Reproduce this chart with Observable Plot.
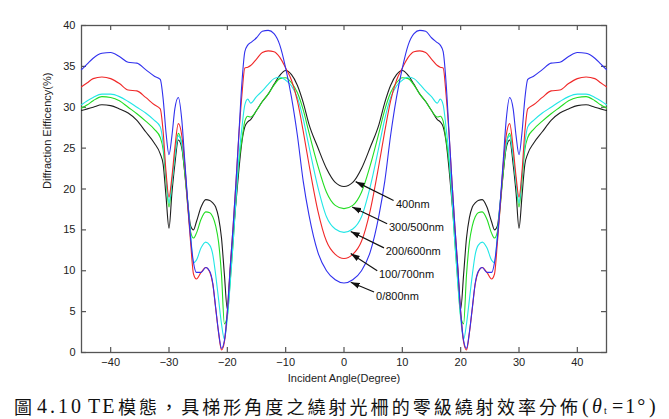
<!DOCTYPE html>
<html>
<head>
<meta charset="utf-8">
<script src="https://cdn.jsdelivr.net/npm/d3@7"></script>
<script src="https://cdn.jsdelivr.net/npm/@observablehq/plot@0.6"></script>
<style>
  html, body { margin: 0; padding: 0; background: #fff; }
  #chart { width: 669px; height: 395px; }
  #caption { position: relative; width: 669px; height: 24px; color: #111; white-space: nowrap; }
  #caption span { position: absolute; top: 0; line-height: 22px; }
  #caption .cjk { font-family: "Noto Sans CJK TC", sans-serif; font-size: 18px; }
  #caption .lat { font-family: "Liberation Serif", serif; font-size: 20px; }
</style>
</head>
<body>
<div id="chart"></div>
<div id="caption"><span class="cjk" style="left:14px">圖</span><span class="lat" style="left:37px;letter-spacing:3px">4.10</span><span class="lat" style="left:88px;letter-spacing:2px">TE</span><span class="cjk" style="left:118px;letter-spacing:3.05px">模態，具梯形角度之繞射光柵的零級繞射效率分佈</span><span class="lat" style="left:582px">(</span><span class="lat" style="left:592px;font-style:italic">θ</span><span class="lat" style="left:604px;top:5px;font-size:10px">t</span><span class="lat" style="left:612px;letter-spacing:2px">=1°</span><span class="lat" style="left:649px">)</span></div>
<script>
// Incident angle (degree)
const angles = [-45,-44,-43,-41.5,-40,-38.5,-37,-35.5,-34,-32.5,-31.5,-31,-30.5,-30,-29.5,-29,-28.4,-27.8,-27.3,-26.8,-26.3,-25.8,-25.3,-24.5,-23.7,-23,-22.5,-22,-21.5,-21,-20.5,-20,-19.5,-19,-18.5,-18,-17.5,-17,-16.5,-16,-15,-14,-13,-12,-11,-10,-9,-8,-7,-6,-4.5,-3,-1.5,
  0,1.5,3,4.5,6,7,8,9,10,11,12,13,14,15,16,16.5,17,17.5,18,18.5,19,19.5,20,20.5,21,21.5,22,22.5,23,23.7,24.5,25.3,25.8,26.3,26.8,27.3,27.8,28.4,29,29.5,30,30.5,31,31.5,32.5,34,35.5,37,38.5,40,41.5,43,44,45];

// Diffraction efficiency (%) per depth series
const eff0_800 = [34.6,35.3,36.0,36.6,36.7,36.2,35.5,35.4,34.6,33.8,33.4,31.0,26.8,24.2,26.5,29.8,31.2,28.4,23.5,18.5,14.0,11.0,9.8,9.8,10.4,9.9,8.5,5.5,2.5,0.5,1.5,5.0,10.5,15.5,21.0,27.0,33.0,36.8,37.6,37.9,38.5,39.3,39.4,39.0,37.6,34.8,31.2,26.6,21.0,16.8,12.3,10.0,8.9,
  8.5,8.9,10.0,12.3,16.8,21.0,26.6,31.2,34.8,37.6,39.0,39.4,39.3,38.5,37.9,37.6,36.8,33.0,27.0,21.0,15.5,10.5,5.0,1.5,0.5,2.5,5.5,8.5,9.9,10.4,9.8,9.8,11.0,14.0,18.5,23.5,28.4,31.2,29.8,26.5,24.2,26.8,31.0,33.4,33.8,34.6,35.4,35.5,36.2,36.7,36.6,36.0,35.3,34.6];

const eff100_700 = [32.5,33.0,33.5,33.7,33.5,32.9,32.1,32.0,31.2,30.3,29.8,27.0,22.0,19.0,21.5,25.0,28.0,26.5,23.0,18.0,13.5,9.6,9.0,9.8,10.4,9.8,8.4,5.4,2.4,0.3,1.3,5.0,10.5,15.5,21.0,26.8,31.5,34.8,34.9,35.1,35.9,36.7,36.9,36.8,36.1,34.8,33.3,30.8,27.1,23.0,17.4,13.6,12.0,
  11.5,12.0,13.6,17.4,23.0,27.1,30.8,33.3,34.8,36.1,36.8,36.9,36.7,35.9,35.1,34.9,34.8,31.5,26.8,21.0,15.5,10.5,5.0,1.3,0.3,2.4,5.4,8.4,9.8,10.4,9.8,9.0,9.6,13.5,18.0,23.0,26.5,28.0,25.0,21.5,19.0,22.0,27.0,29.8,30.3,31.2,32.0,32.1,32.9,33.5,33.7,33.5,33.0,32.5];

const eff200_600 = [30.3,30.8,31.2,31.6,31.6,31.3,30.7,30.0,29.3,28.4,27.6,25.5,21.5,18.3,20.8,24.0,26.5,25.5,22.8,18.5,14.5,11.0,11.3,12.8,13.5,13.1,12.0,9.5,6.5,3.5,1.6,4.2,8.5,13.5,19.0,24.0,27.5,30.3,31.0,30.5,31.3,32.0,32.8,33.5,33.7,33.3,32.6,31.2,28.6,25.2,20.3,16.6,15.1,
  14.7,15.1,16.6,20.3,25.2,28.6,31.2,32.6,33.3,33.7,33.5,32.8,32.0,31.3,30.5,31.0,30.3,27.5,24.0,19.0,13.5,8.5,4.2,1.6,3.5,6.5,9.5,12.0,13.1,13.5,12.8,11.3,11.0,14.5,18.5,22.8,25.5,26.5,24.0,20.8,18.3,21.5,25.5,27.6,28.4,29.3,30.0,30.7,31.3,31.6,31.6,31.2,30.8,30.3];

const eff300_500 = [29.9,30.3,30.8,31.3,31.2,30.8,30.0,29.2,28.3,27.3,26.3,24.8,21.0,17.8,20.8,24.0,26.8,25.3,22.0,18.0,14.8,14.0,14.6,16.3,17.2,17.1,16.6,15.5,13.5,9.5,3.5,4.5,8.8,13.5,19.0,23.4,26.0,28.3,28.9,28.8,29.6,30.7,31.6,32.7,33.5,33.6,33.0,31.8,29.7,26.9,22.9,19.6,18.0,
  17.6,18.0,19.6,22.9,26.9,29.7,31.8,33.0,33.6,33.5,32.7,31.6,30.7,29.6,28.8,28.9,28.3,26.0,23.4,19.0,13.5,8.8,4.5,3.5,9.5,13.5,15.5,16.6,17.1,17.2,16.3,14.6,14.0,14.8,18.0,22.0,25.3,26.8,24.0,20.8,17.8,21.0,24.8,26.3,27.3,28.3,29.2,30.0,30.8,31.2,31.3,30.8,30.3,29.9];

const eff400 = [29.6,29.8,30.0,30.3,30.2,29.8,29.3,28.4,27.0,25.6,24.3,23.0,19.0,15.2,19.5,23.0,26.0,25.0,22.0,18.5,15.5,15.0,16.0,17.8,18.7,18.6,18.3,17.8,16.5,14.0,9.5,5.3,10.0,14.5,18.5,22.5,25.8,27.6,28.2,28.5,29.6,30.7,31.6,32.8,33.9,34.5,34.0,32.7,30.6,27.9,25.1,22.5,20.8,
  20.3,20.8,22.5,25.1,27.9,30.6,32.7,34.0,34.5,33.9,32.8,31.6,30.7,29.6,28.5,28.2,27.6,25.8,22.5,18.5,14.5,10.0,5.3,9.5,14.0,16.5,17.8,18.3,18.6,18.7,17.8,16.0,15.0,15.5,18.5,22.0,25.0,26.0,23.0,19.5,15.2,19.0,23.0,24.3,25.6,27.0,28.4,29.3,29.8,30.2,30.3,30.0,29.8,29.6];

// Tick values
const xTicks = [-40,-30,-20,-10,0,10,20,30,40];
const yTicks = [0,5,10,15,20,25,30,35,40];
const xDomain = [-45, 45];
const yDomain = [0, 40];

// Annotations: label text, label anchor, arrow tail and tip (data units)
const noteText = ["400nm","300/500nm","200/600nm","100/700nm","0/800nm"];
const noteX = [8.9,7.7,7.15,6.0,5.5];
const noteY = [18.1,15.3,12.4,9.6,6.9];
const tailX = [8.5,7.4,6.85,5.7,5.15];
const tailY = [18.6,15.75,12.8,10.0,7.4];
const tipX = [2.0,1.4,1.15,1.15,1.15];
const tipY = [20.9,17.8,14.8,12.1,8.6];

const seriesDefs = [
  {name: "400nm", values: eff400, color: "#1e1e1e"},
  {name: "300/500nm", values: eff300_500, color: "#22dd22"},
  {name: "200/600nm", values: eff200_600, color: "#22e6e6"},
  {name: "100/700nm", values: eff100_700, color: "#f02828"},
  {name: "0/800nm", values: eff0_800, color: "#3030ee"}
];

const rows = seriesDefs.flatMap(s => angles.map((a, i) => ({series: s.name, angle: a, eff: s.values[i]})));
const notes = noteText.map((t, i) => ({t, x: noteX[i], y: noteY[i], x1: tailX[i], y1: tailY[i], x2: tipX[i], y2: tipY[i]}));

function filledArrow(color, context) {
  const ns = "http://www.w3.org/2000/svg";
  const m = context.document.createElementNS(ns, "marker");
  m.setAttribute("viewBox", "-9 -3.5 9 7");
  m.setAttribute("markerWidth", "9");
  m.setAttribute("markerHeight", "7");
  m.setAttribute("markerUnits", "userSpaceOnUse");
  m.setAttribute("orient", "auto");
  m.setAttribute("refX", "0");
  m.setAttribute("refY", "0");
  const p = context.document.createElementNS(ns, "path");
  p.setAttribute("d", "M-9,-3L0,0L-9,3Z");
  p.setAttribute("fill", color);
  p.setAttribute("stroke", "none");
  m.appendChild(p);
  return m;
}

const W = 669, H = 395, ML = 81, MR = 63, MT = 25, MB = 43;
const TICK = 5;
const innerW = W - ML - MR, innerH = H - MT - MB;
const axisColor = "#555";

const marks = [
  Plot.frame({stroke: axisColor, strokeWidth: 1.3}),
  // inward tick marks on all four sides
  Plot.ruleX(xTicks, {stroke: axisColor, strokeWidth: 1.2, insetTop: innerH - TICK}),
  Plot.ruleX(xTicks, {stroke: axisColor, strokeWidth: 1.2, insetBottom: innerH - TICK}),
  Plot.ruleY(yTicks, {stroke: axisColor, strokeWidth: 1.2, insetRight: innerW - TICK}),
  Plot.ruleY(yTicks, {stroke: axisColor, strokeWidth: 1.2, insetLeft: innerW - TICK}),
  Plot.axisX(xTicks, {anchor: "bottom", tickSize: 0, tickPadding: 6, label: null, fill: "#222"}),
  Plot.axisY(yTicks, {anchor: "left", tickSize: 0, tickPadding: 6, label: null, fill: "#222"}),
  Plot.text(["Incident Angle(Degree)"], {frameAnchor: "bottom", dy: 29, fill: "#222", fontSize: 11}),
  Plot.text(["Diffraction Eifficency(%)"], {frameAnchor: "left", dx: -34, rotate: -90, fill: "#222", fontSize: 11})
];
for (const s of seriesDefs) {
  marks.push(Plot.line(rows.filter(r => r.series === s.name), {x: "angle", y: "eff", stroke: s.color, strokeWidth: 1.1, curve: "monotone-x"}));
}
marks.push(
  Plot.link(notes, {x1: "x1", y1: "y1", x2: "x2", y2: "y2", stroke: "#111", strokeWidth: 1.2, markerEnd: filledArrow}),
  Plot.text(notes, {x: "x", y: "y", text: "t", textAnchor: "start", fill: "#111", fontSize: 11})
);

const chart = Plot.plot({
  width: W,
  height: H,
  marginLeft: ML,
  marginRight: MR,
  marginTop: MT,
  marginBottom: MB,
  x: {domain: xDomain},
  y: {domain: yDomain},
  style: {fontFamily: "'Liberation Sans', Arial, sans-serif", fontSize: "11px", background: "#fff", color: "#222"},
  marks
});
document.getElementById("chart").appendChild(chart);
</script>
</body>
</html>
